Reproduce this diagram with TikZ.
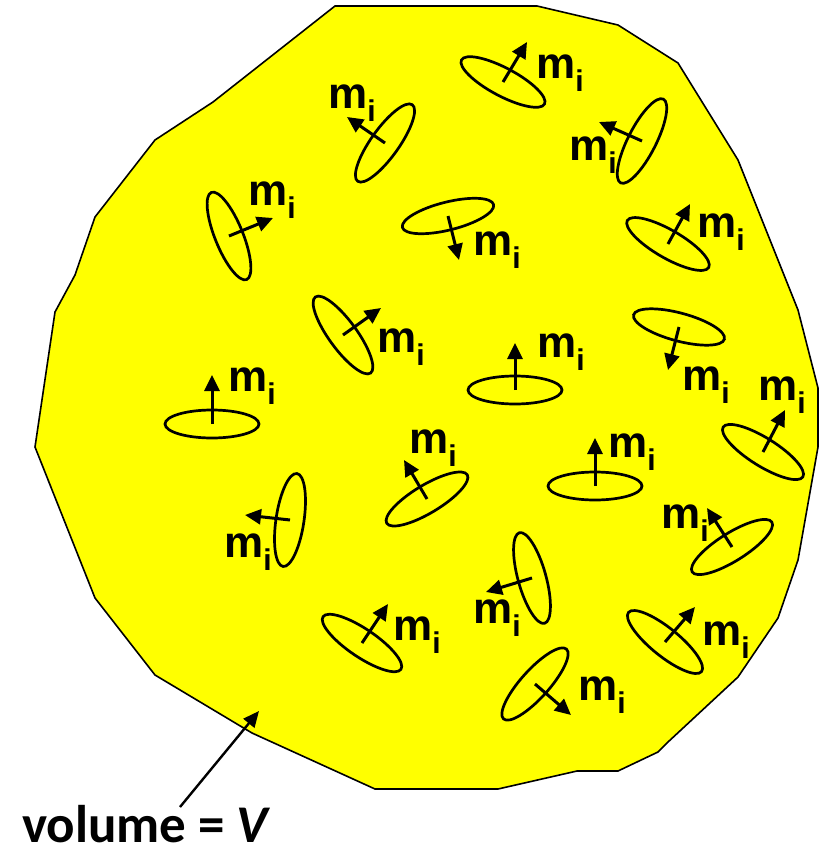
\documentclass[tikz,border=0pt]{standalone}
\usepackage{fontspec}
\setmainfont{Carlito}
\newfontfamily\labfont{Liberation Sans}
\usetikzlibrary{arrows.meta}
\definecolor{vyel}{RGB}{255,255,0}
\tikzset{
  body/.style={fill=vyel, draw=black, line width=1.6pt, line join=miter},
  ell/.style={draw=black, line width=2.7pt},
  mom/.style={draw=black, line width=3pt, -{Triangle[length=16pt,width=15pt]}},
  volarrow/.style={draw=black, line width=2.4pt, -{Triangle[length=16pt,width=14pt]}},
  lab/.style={anchor=base west, inner sep=0pt, font=\labfont\bfseries\fontsize{44}{44}\selectfont},
  vollab/.style={anchor=base west, inner sep=0pt, font=\bfseries\fontsize{53}{53}\selectfont},
}
\newcommand\mlabel{m\raisebox{-13pt}{\fontsize{30}{30}\selectfont i}}
\begin{document}
\begin{tikzpicture}[x=1pt,y=-1pt]
\useasboundingbox (0,0) rectangle (825,849);
\path[body] (335,6) -- (537,6) -- (618,25) -- (678,63) -- (738,160) -- (798,310)
  -- (818,388) -- (818,447) -- (798,560) -- (778,618) -- (738,677) -- (668,742)
  -- (658,752) -- (618,771) -- (577,771) -- (498,789) -- (375,789) -- (252,733)
  -- (155,675) -- (95,598) -- (35,447) -- (55,312) -- (75,275) -- (95,217)
  -- (155,140) -- (213,102) -- cycle;
\foreach \cx/\cy/\ang/\tx/\ty/\lx/\ly [count=\k] in {
  503/82/-28/527/42/536/78,
  385/143/54.5/347/117/328/108,
  229/236/-68/273/218/248/205,
  343/335/-54/381/308/377/352,
  212/424/0/212/375/228/391,
  290/520/81.5/245/515/224/557,
  362/643/-34/388/604/393/640,
  448/216/14/459/260/473/255,
  642/141/63/599/122/569/160,
  668/244/-30/690/204/697/237,
  679/327/-15/668/370/682/390,
  515/390/0/515/343/537/357,
  763/452/-32/785/410/758/400,
  427/499/31/404/460/409/453,
  595/486/0/595/438/608/457,
  732/547/32/707/508/661/528,
  532/578/-74.5/486/592/473/623,
  535/684/48/571/715/578/700,
  665/642/-39/695/607/702/645}
{
  \coordinate (c\k) at (\cx,\cy);
  \coordinate (t\k) at (\tx,\ty);
  \draw[ell] (c\k) ellipse[x radius=47, y radius=14, rotate=\ang];
  \draw[mom] (c\k) -- (t\k);
  \node[lab] (l\k) at (\lx,\ly) {\mlabel};
}
\node[vollab] (vol) at (22,842) {volume = \textit{V}};
\coordinate (vs) at (180,807);
\coordinate (vt) at (259,711);
\draw[volarrow] (vs) -- (vt);
\end{tikzpicture}
\end{document}
